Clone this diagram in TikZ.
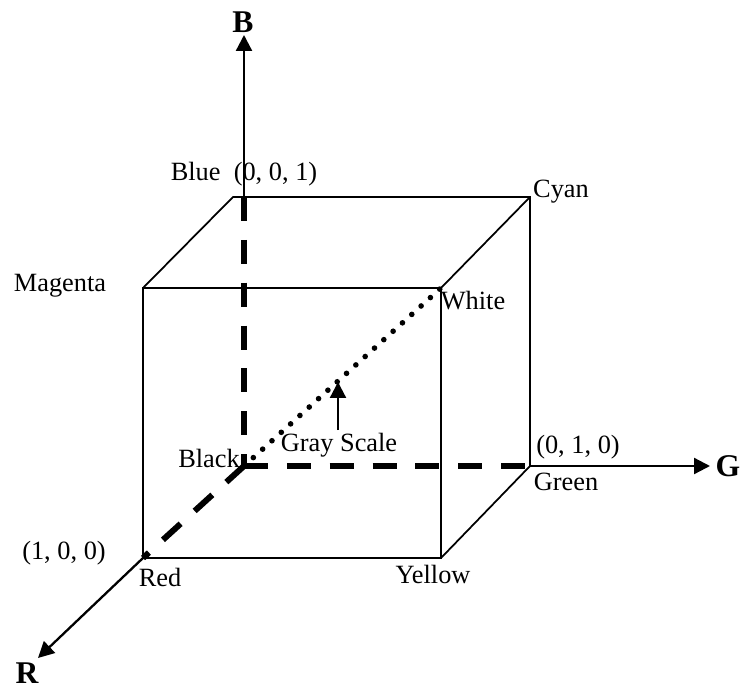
\documentclass[tikz,border=0pt]{standalone}
\usepackage{fontspec}
\setmainfont{Liberation Serif}
\usetikzlibrary{arrows.meta}
\begin{document}
\begin{tikzpicture}[>={Triangle[length=3.2mm,width=3.2mm]},x=0.02cm,y=-0.02cm,
    every node/.style={inner sep=0pt,anchor=base,font=\fontsize{15}{17}\selectfont},
    axislabel/.style={font=\fontsize{18}{20}\selectfont\bfseries},
    edge/.style={line width=1.0pt},
    axis/.style={line width=1.3pt,->},
    hidden/.style={line width=3.4pt,dash pattern=on 13.6pt off 10.8pt},
    gray scale/.style={line width=3.2pt,line cap=round,dash pattern=on 0pt off 7.15pt}]
  \useasboundingbox (0,0) rectangle (740,689);
  % cube corners
  \coordinate (black) at (244,466);
  \coordinate (red) at (143,558);
  \coordinate (green) at (530,466);
  \coordinate (blue) at (244,197);
  \coordinate (yellow) at (441,558);
  \coordinate (magenta) at (143,288);
  \coordinate (white) at (441,288);
  \coordinate (cyan) at (530,197);
  \coordinate (backleft) at (233,197);
  % axis ends
  \coordinate (Rend) at (38,658);
  \coordinate (Gend) at (710,466);
  \coordinate (Bend) at (244,35);
  \coordinate (scalefoot) at (338,430);
  \coordinate (scaletip) at (338,382);
  % cube
  \draw[edge] (magenta) rectangle (yellow);
  \draw[edge] (magenta) -- (backleft) -- (cyan) -- (green) -- (yellow);
  \draw[edge] (white) -- (cyan);
  % axes
  \draw[axis] (red) -- (Rend);
  \draw[axis] (green) -- (Gend);
  \draw[axis] (blue) -- (Bend);
  \draw[hidden] (blue) -- (black);
  \draw[hidden] (black) -- (green);
  \draw[hidden] (black) -- (red);
  \draw[gray scale] (black) -- (white);
  \draw[axis] (scalefoot) -- (scaletip);
  % labels
  \node[axislabel] (Blabel) at (243,33) {B};
  \node[axislabel] (Glabel) at (728,476) {G};
  \node[axislabel] (Rlabel) at (27,683) {R};
  \node (bluetext) at (244,181) {Blue\ \ (0, 0, 1)};
  \node (cyantext) at (561,198) {Cyan};
  \node (magentatext) at (60,291) {Magenta};
  \node (whitetext) at (473,309) {White};
  \node (blacktext) at (209,467) {Black};
  \node (scaletext) at (339,451) {Gray Scale};
  \node (greenpoint) at (578,453) {(0, 1, 0)};
  \node (greentext) at (566,490) {Green};
  \node (redpoint) at (64,559) {(1, 0, 0)};
  \node (redtext) at (160,586) {Red};
  \node (yellowtext) at (433,583) {Yellow};
\end{tikzpicture}
\end{document}
